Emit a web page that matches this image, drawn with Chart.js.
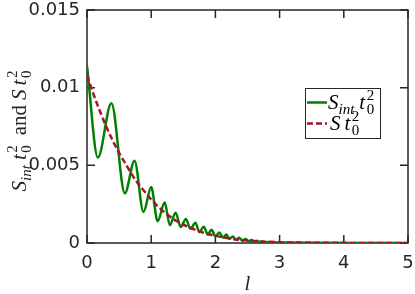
<!DOCTYPE html>
<html>
<head>
<meta charset="utf-8">
<script src="https://cdn.jsdelivr.net/npm/chart.js@4.4.1/dist/chart.umd.min.js"></script>
<style>
  html, body { margin: 0; padding: 0; background: #fff; }
  #wrap { width: 415px; height: 294px; }
</style>
</head>
<body>
<div id="wrap"><canvas id="myChart" width="415" height="294"></canvas></div>
<script>
  /* data */
  const lInt = [0, 0.17, 0.38, 0.59, 0.74, 0.88, 1.0, 1.1, 1.21, 1.29, 1.38, 1.46, 1.54, 1.61, 1.69,
    1.75, 1.82, 1.88, 1.94, 2.0, 2.06, 2.12, 2.17, 2.22, 2.27, 2.32, 2.37, 2.42, 2.47, 2.52, 2.56,
    2.61, 2.65, 2.69, 2.73, 2.77, 2.81, 2.9, 3.0, 3.5, 4.0, 5.0];
  const sInt = [0.0114, 0.0055, 0.0090, 0.0032, 0.0053, 0.0020, 0.0036, 0.0014, 0.0026, 0.00115, 0.00195, 0.00103, 0.00155, 0.00092, 0.0013,
    0.0007, 0.00105, 0.00055, 0.00085, 0.00043, 0.00068, 0.00033, 0.00054, 0.00026, 0.00042, 0.0002, 0.00033, 0.00015, 0.00025, 0.00011, 0.00019,
    0.00008, 0.00014, 0.00006, 0.0001, 0.00004, 0.00007, 0.00004, 0.00003, 0.00001, 0, 0];

  const lS = [0, 0.1, 0.2, 0.3, 0.4, 0.5, 0.6, 0.7, 0.8, 0.9, 1.0, 1.2, 1.4, 1.6, 1.8, 2.0, 2.2, 2.4, 2.6, 2.8, 3.0, 3.5, 4.0, 4.5, 5.0];
  const sS = [0.0108, 0.0096, 0.0085, 0.0075, 0.0066, 0.0058, 0.0051, 0.0044, 0.0038, 0.0033, 0.0028, 0.0020, 0.0014, 0.0010, 0.00068,
    0.00046, 0.00031, 0.0002, 0.00013, 0.00008, 0.00005, 0.00002, 0.00001, 0, 0];

  const xTicks = [0, 1, 2, 3, 4, 5];
  const xTickLabels = ['0', '1', '2', '3', '4', '5'];
  const yTicks = [0, 0.005, 0.01, 0.015];
  const yTickLabels = ['0', '0.005', '0.01', '0.015'];

  const axisColor = '#262626';
  const green = '#008000';
  const red = '#A2142F';
  const serif = '"Liberation Serif", "DejaVu Serif", serif';

  function points(xs, ys) {
    return xs.map((x, i) => ({ x: x, y: ys[i] }));
  }

  // draw a run of math text pieces, returns width
  function mathText(ctx, segs, x, y, measureOnly) {
    let cx = x;
    let prevStart = x;
    for (const s of segs) {
      ctx.font = s.f;
      const start = s.stack ? prevStart : cx + (s.pre || 0);
      const w = ctx.measureText(s.t).width;
      if (!measureOnly) ctx.fillText(s.t, start, y + (s.dy || 0));
      prevStart = start;
      cx = Math.max(cx, start + w + (s.kern || 0));
    }
    return cx - x;
  }

  const mainI = 'italic 21px ' + serif;
  const mainR = '21px ' + serif;
  const scrI = 'italic 15px ' + serif;
  const scrR = '15px ' + serif;

  const sIntSegs = [
    { t: 'S', f: mainI, kern: 0 },
    { t: 'int', f: scrI, dy: 5, kern: 5 },
    { t: 't', f: mainI, kern: 1.5 },
    { t: '0', f: scrR, dy: 5 },
    { t: '2', f: scrR, dy: -9, stack: true }
  ];
  const sSegs = [
    { t: 'S', f: mainI, kern: 4 },
    { t: 't', f: mainI, kern: 1.5 },
    { t: '0', f: scrR, dy: 5 },
    { t: '2', f: scrR, dy: -9, stack: true }
  ];
  const andSegs = [{ t: 'and', f: mainR, pre: 10, kern: 5 }];

  const boxPlugin = {
    id: 'box',
    beforeDatasetsDraw(chart) {
      const { ctx, chartArea: a, scales } = chart;
      ctx.save();
      ctx.strokeStyle = axisColor;
      ctx.lineWidth = 1.5;
      ctx.beginPath();
      for (const v of xTicks) {
        const px = scales.x.getPixelForValue(v);
        ctx.moveTo(px, a.bottom); ctx.lineTo(px, a.bottom - 8);
        ctx.moveTo(px, a.top); ctx.lineTo(px, a.top + 8);
      }
      for (const v of yTicks) {
        const py = scales.y.getPixelForValue(v);
        ctx.moveTo(a.left, py); ctx.lineTo(a.left + 8, py);
        ctx.moveTo(a.right, py); ctx.lineTo(a.right - 8, py);
      }
      ctx.stroke();
      ctx.strokeRect(a.left, a.top, a.right - a.left, a.bottom - a.top);
      ctx.restore();
    },
    afterDatasetsDraw(chart) {
      const { ctx, chartArea: a } = chart;
      ctx.save();
      // legend
      ctx.fillStyle = '#fff';
      ctx.fillRect(305, 88, 76, 50);
      ctx.strokeStyle = axisColor;
      ctx.lineWidth = 1;
      ctx.strokeRect(305.5, 88.5, 75, 50);
      ctx.lineWidth = 2.5;
      ctx.strokeStyle = green;
      ctx.beginPath(); ctx.moveTo(307, 102.5); ctx.lineTo(327, 102.5); ctx.stroke();
      ctx.strokeStyle = red;
      ctx.setLineDash([6, 3]);
      ctx.beginPath(); ctx.moveTo(307, 123.5); ctx.lineTo(327, 123.5); ctx.stroke();
      ctx.setLineDash([]);
      ctx.fillStyle = '#000';
      ctx.textBaseline = 'alphabetic';
      ctx.textAlign = 'left';
      mathText(ctx, sIntSegs, 328, 109);
      mathText(ctx, sSegs, 330, 130);

      // x title
      ctx.font = mainI;
      ctx.textAlign = 'center';
      ctx.fillStyle = axisColor;
      ctx.fillText('l', (a.left + a.right) / 2, 290);

      // y title
      ctx.textAlign = 'left';
      const segs = sIntSegs.concat(andSegs, sSegs);
      const w = mathText(ctx, segs, 0, 0, true);
      ctx.translate(26, 131);
      ctx.rotate(-Math.PI / 2);
      mathText(ctx, segs, -w / 2, 0);
      ctx.restore();
    }
  };

  function initChart() {
    const ctx = document.getElementById('myChart').getContext('2d');
    // eslint-disable-next-line no-undef
    const myChart = new Chart(ctx, {
      type: 'line',
      data: {
        datasets: [{
          label: 'S t0^2',
          data: points(lS, sS),
          borderColor: red,
          borderWidth: 2.5,
          borderDash: [6, 3],
          cubicInterpolationMode: 'monotone',
          pointRadius: 0,
          order: 0
        },
        {
          label: 'S_int t0^2',
          data: points(lInt, sInt),
          borderColor: green,
          borderWidth: 2.5,
          cubicInterpolationMode: 'monotone',
          pointRadius: 0,
          order: 1
        }]
      },
      options: {
        responsive: false,
        animation: false,
        layout: { padding: { top: 10, right: 7, left: 0, bottom: 0 } },
        plugins: { legend: { display: false }, tooltip: { enabled: false } },
        scales: {
          x: {
            type: 'linear',
            min: 0,
            max: 5,
            afterBuildTicks: (s) => { s.ticks = xTicks.map(v => ({ value: v })); },
            afterFit: (s) => { s.height = 51; s.paddingLeft = 0; s.paddingRight = 0; },
            grid: { display: false, drawTicks: false },
            border: { display: false },
            ticks: {
              padding: 10,
              color: axisColor,
              font: { family: '"DejaVu Sans"', size: 18 },
              maxRotation: 0,
              callback: (v) => xTickLabels[xTicks.indexOf(v)]
            }
          },
          y: {
            min: 0,
            max: 0.015,
            afterBuildTicks: (s) => { s.ticks = yTicks.map(v => ({ value: v })); },
            afterFit: (s) => { s.width = 87; s.paddingTop = 0; s.paddingBottom = 0; },
            grid: { display: false, drawTicks: false },
            border: { display: false },
            ticks: {
              padding: 7,
              color: axisColor,
              font: { family: '"DejaVu Sans"', size: 18 },
              callback: (v) => yTickLabels[yTicks.indexOf(v)]
            }
          }
        }
      },
      plugins: [boxPlugin]
    });
  }

  initChart();
</script>
</body>
</html>
